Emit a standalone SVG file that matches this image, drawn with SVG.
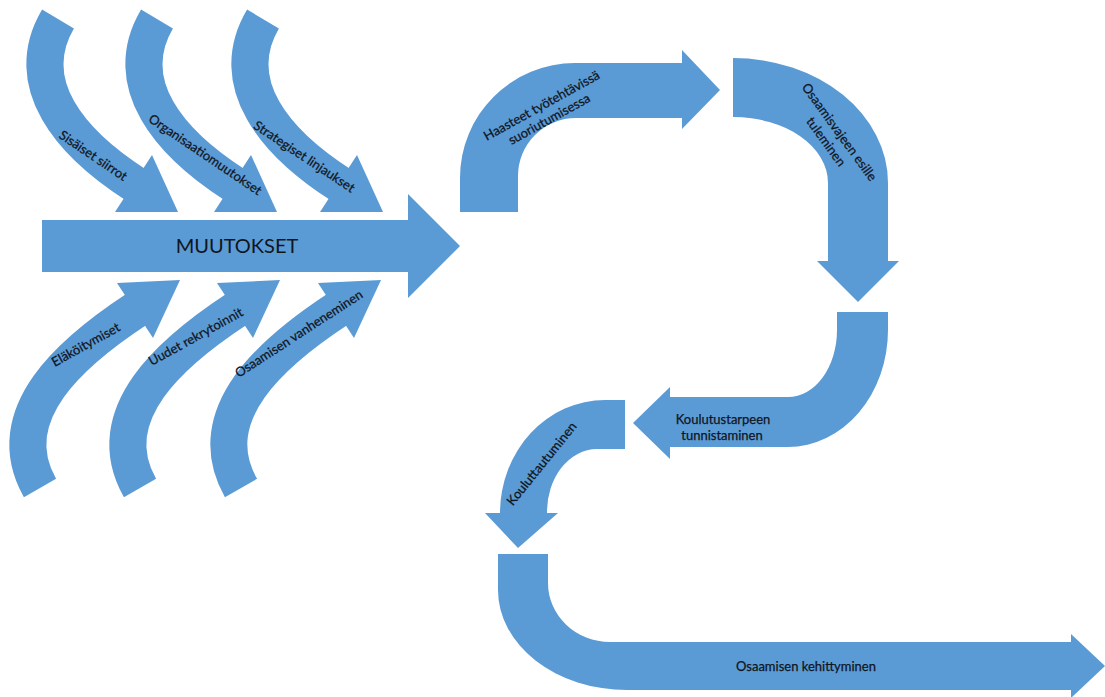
<svg xmlns="http://www.w3.org/2000/svg" xmlns:xlink="http://www.w3.org/1999/xlink" width="1105" height="697" viewBox="0 0 1105 697">
  <style>
    .fill { fill: #5B9BD5; }
    .band { fill: none; stroke: #5B9BD5; stroke-width: 37; stroke-linecap: butt; }
    .lbl { font-family: Lato, "Liberation Sans", sans-serif; font-size: 13px; fill: #10151d; stroke: #10151d; stroke-width: 0.25; text-anchor: middle; }
    .big { font-family: Lato, "Liberation Sans", sans-serif; font-size: 20px; fill: #10151d; text-anchor: middle; }
  </style>
  <defs>
    <!-- curved arrow bending down into the main arrow -->
    <g id="dropArrow">
      <path class="band" d="M58,19 C19.8,83.5 70.5,143 136,185"/>
      <polygon class="fill" points="152,155 178,212 115,212"/>
    </g>
    <!-- curved arrow rising up into the main arrow -->
    <g id="riseArrow">
      <path class="band" d="M40,488 C-2,414 73,351 137,309"/>
      <polygon class="fill" points="117,283 180,280 153,338"/>
    </g>
  </defs>

  <rect width="1105" height="697" fill="#ffffff"/>

  <!-- main arrow -->
  <g id="muutokset">
    <polygon class="fill" points="42,220 408,220 408,194 460,246 408,298 408,272 42,272"/>
    <text class="big" x="237" y="253">MUUTOKSET</text>
  </g>

  <!-- incoming changes from above -->
  <g id="sisaiset-siirrot">
    <use xlink:href="#dropArrow"/>
    <text class="lbl" transform="translate(93,156) rotate(34)" y="4">Sisäiset siirrot</text>
  </g>
  <g id="organisaatiomuutokset">
    <use xlink:href="#dropArrow" transform="translate(99,0)"/>
    <text class="lbl" transform="translate(205,155) rotate(34)" y="4">Organisaatiomuutokset</text>
  </g>
  <g id="strategiset-linjaukset">
    <use xlink:href="#dropArrow" transform="translate(205,0)"/>
    <text class="lbl" transform="translate(304,157) rotate(33.5)" y="4">Strategiset linjaukset</text>
  </g>

  <!-- incoming changes from below -->
  <g id="elakoitymiset">
    <use xlink:href="#riseArrow"/>
    <text class="lbl" transform="translate(86,345) rotate(-29)" y="4">Eläköitymiset</text>
  </g>
  <g id="uudet-rekrytoinnit">
    <use xlink:href="#riseArrow" transform="translate(100,0)"/>
    <text class="lbl" transform="translate(196,337) rotate(-29)" y="4">Uudet rekrytoinnit</text>
  </g>
  <g id="osaamisen-vanheneminen">
    <use xlink:href="#riseArrow" transform="translate(201,0)"/>
    <text class="lbl" transform="translate(299,334) rotate(-33)" y="4">Osaamisen vanheneminen</text>
  </g>

  <!-- process chain -->
  <g id="haasteet">
    <path class="fill" d="M460,212 L460,178 A115,115 0 0 1 575,63 L682,63 L682,50 L720,90 L682,129 L682,118 L576,118 A58,58 0 0 0 518,176 L518,212 Z"/>
    <g transform="translate(545.5,112.5) rotate(-29)">
      <text class="lbl" x="0" y="-3.5">Haasteet työtehtävissä</text>
      <text class="lbl" x="0" y="12">suoriutumisessa</text>
    </g>
  </g>

  <g id="osaamisvaje">
    <path class="fill" d="M733,58 A155,125 0 0 1 888,183 L888,261 L899,261 L858,302 L817,261 L828,261 L828,183 A95,66 0 0 0 733,117 Z"/>
    <g transform="translate(832.5,137) rotate(54)">
      <text class="lbl" x="0" y="-4">Osaamisvajeen esille</text>
      <text class="lbl" x="0" y="12.5">tuleminen</text>
    </g>
  </g>

  <g id="koulutustarve">
    <path class="fill" d="M888,312 L888,330 A100,117 0 0 1 788,447 L670,447 L670,459 L633,423 L670,387 L670,397 L788,397 A49,67 0 0 0 837,330 L837,312 Z"/>
    <text class="lbl" x="723" y="424">Koulutustarpeen</text>
    <text class="lbl" x="722" y="440">tunnistaminen</text>
  </g>

  <g id="kouluttautuminen">
    <path class="fill" d="M625,400 L605,400 A105,113 0 0 0 500,513 L485,513 L518,548 L558,513 L547,513 A50,63 0 0 1 597,449 L625,449 Z"/>
    <text class="lbl" transform="translate(542,464) rotate(-51)" y="4">Kouluttautuminen</text>
  </g>

  <g id="osaamisen-kehittyminen">
    <path class="fill" d="M498,554 L498,590 A129,100 0 0 0 627,690 L1071,690 L1071,698 L1105,666 L1071,634 L1071,642 L610,642 A62,59 0 0 1 548,583 L548,554 Z"/>
    <text class="lbl" x="806" y="671">Osaamisen kehittyminen</text>
  </g>
</svg>
